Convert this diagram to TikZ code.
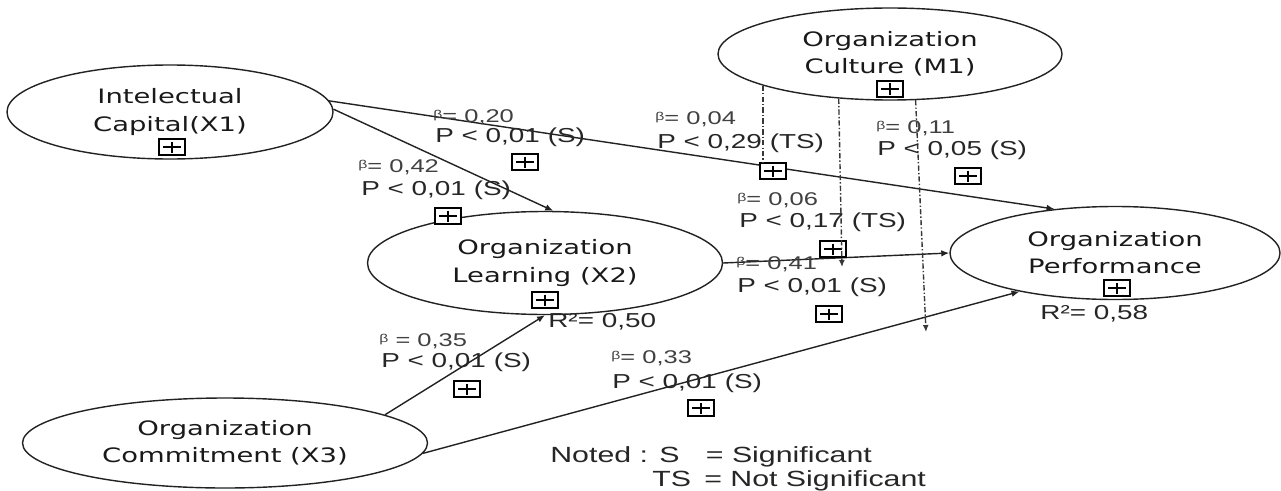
\documentclass[tikz,border=0pt]{standalone}
\usepackage{fontspec}
\usepackage{tikz}
\usetikzlibrary{shapes.geometric, arrows.meta, positioning}
\newfontfamily\ellfont{DejaVu Sans}[FakeStretch=1.38]
\newfontfamily\labfont{Liberation Sans}[FakeStretch=1.38]
\definecolor{lineGrey}{HTML}{222222}
\newcommand\betasym{\raisebox{0.4ex}{\fontsize{6.5}{7}\selectfont β}}

\begin{document}
\begin{tikzpicture}[
    x=0.2mm, y=-0.2mm,
    latent/.style={ellipse, draw=lineGrey, line width=0.8pt, inner sep=0pt, align=center, text=black!90, font=\ellfont\fontsize{11.3}{15.4}\selectfont},
    plusbox/.style={rectangle, draw=black, fill=white, line width=0.9pt, minimum width=5.2mm, minimum height=3.2mm, inner sep=0pt,
        path picture={\draw[line width=0.9pt] ([yshift=-0.5mm]path picture bounding box.north) -- ([yshift=0.5mm]path picture bounding box.south)
            ([xshift=0.8mm]path picture bounding box.west) -- ([xshift=-0.8mm]path picture bounding box.east);}},
    coef/.style={anchor=base west, inner sep=0pt, text=black!85, font=\labfont\fontsize{11.5}{13}\selectfont},
    betaline/.style={anchor=base west, inner sep=0pt, text=black!75, font=\labfont\fontsize{10.5}{12}\selectfont},
    legend/.style={anchor=base west, inner sep=0pt, text=black!85, font=\labfont\fontsize{12.5}{14}\selectfont},
    arrow/.style={-{Latex[length=1.6mm,width=1.3mm]}, line width=0.8pt, color=lineGrey},
    moder/.style={-{Latex[length=1.4mm,width=1.2mm]}, line width=0.8pt, color=lineGrey!90, dash pattern=on 3pt off 1.2pt on 0.8pt off 1.2pt}
]
    \useasboundingbox (0,0) rectangle (1281,490);

    % Constructs
    \node[latent, minimum width=65.2mm, minimum height=18.8mm] (x1) at (170,112) {Intelectual\\Capital(X1)};
    \node[latent, minimum width=68.8mm, minimum height=18.4mm] (m1) at (890,54) {Organization\\Culture (M1)};
    \node[latent, minimum width=71mm, minimum height=20.6mm] (x2) at (545,263) {Organization\\Learning (X2)};
    \node[latent, minimum width=66mm, minimum height=18.6mm] (perf) at (1115,253) {Organization\\Performance};
    \node[latent, minimum width=81mm, minimum height=18mm] (x3) at (225,443) {Organization\\Commitment (X3)};

    % Paths
    \draw[arrow] (x1.4) -- (perf.144);
    \draw[arrow] (x1.1) -- (x2.81);
    \draw[arrow] (x2.east) -- (perf.west);
    \draw[arrow] (x3.10) -- (x2.south);
    \draw[arrow] (x3.-3) -- (perf.202);

    % Boxes
    \node[plusbox] (bx1) at (172,147) {};
    \node[plusbox] (bm1) at (890,89) {};
    \node[plusbox] (bx2) at (545,300) {};
    \node[plusbox] (bperf) at (1117,288) {};
    \node[plusbox] (s20) at (525,162) {};
    \node[plusbox] (s42) at (448,216) {};
    \node[plusbox] (s04) at (773,171) {};
    \node[plusbox] (s11) at (968,176) {};
    \node[plusbox] (s06) at (833,249) {};
    \node[plusbox] (s41) at (829,314) {};
    \node[plusbox] (s35) at (467,389) {};
    \node[plusbox] (s33) at (701,408) {};

    % Moderation
    \coordinate (t2) at (842,267);
    \coordinate (t3) at (926,332);
    \draw[moder, -] (m1.194) -- (m1.194 |- s04.north);
    \draw[moder] (m1.221) -- (t2);
    \draw[moder] (m1.299) -- (t3);

    % Coefficients
    \node[betaline] (b20) at (433,122) {\betasym= 0,20};
    \node[coef] (p20) at (435,142) {P < 0,01 (S)};
    \node[betaline] (b42) at (358,172) {\betasym= 0,42};
    \node[coef] (p42) at (361,195) {P < 0,01 (S)};
    \node[betaline] (b04) at (655,124) {\betasym= 0,04};
    \node[coef] (p04) at (657,148) {P < 0,29 (TS)};
    \node[betaline] (b11) at (876,133) {\betasym= 0,11};
    \node[coef] (p11) at (877,155) {P < 0,05 (S)};
    \node[betaline] (b06) at (737,205) {\betasym= 0,06};
    \node[coef] (p06) at (739,227) {P < 0,17 (TS)};
    \node[betaline] (b41) at (736,269) {\betasym= 0,41};
    \node[coef] (p41) at (737,292) {P < 0,01 (S)};
    \node[betaline] (b35) at (379,346) {\betasym\ = 0,35};
    \node[coef] (p35) at (381,367) {P < 0,01 (S)};
    \node[betaline] (b33) at (611,363) {\betasym= 0,33};
    \node[coef] (p33) at (612,388) {P < 0,01 (S)};

    % R squared
    \node[coef] (r2x2) at (548,327) {R²= 0,50};
    \node[coef] (r2perf) at (1040,319) {R²= 0,58};

    % Legend
    \node[legend] (note1) at (550,462) {Noted : S\hspace{1.2em}= Significant};
    \node[legend] (note2) at (652,486) {TS\hspace{0.6em}= Not Significant};
\end{tikzpicture}
\end{document}
